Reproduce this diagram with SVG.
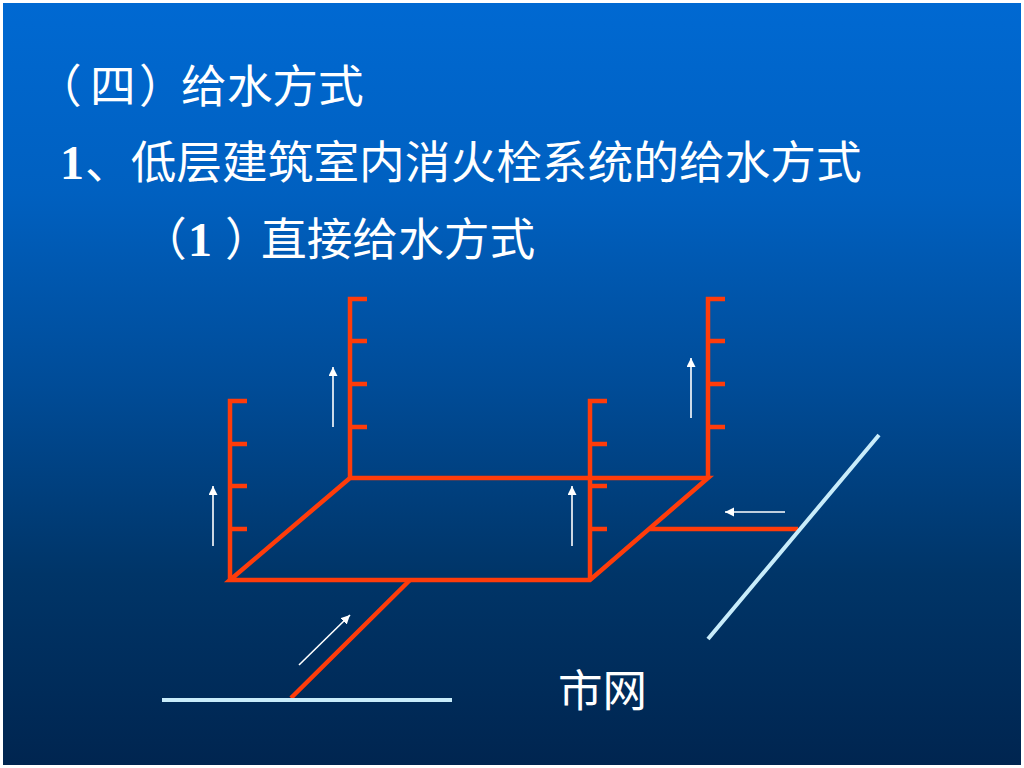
<svg xmlns="http://www.w3.org/2000/svg" width="1024" height="768" viewBox="0 0 1024 768">
<defs>
<linearGradient id="bg" x1="0" y1="0" x2="0" y2="1">
<stop offset="0" stop-color="#0069d2"/>
<stop offset="0.25" stop-color="#0060c0"/>
<stop offset="0.5" stop-color="#004c98"/>
<stop offset="0.75" stop-color="#003568"/>
<stop offset="1" stop-color="#002550"/>
</linearGradient>
<marker id="ah" markerUnits="userSpaceOnUse" markerWidth="10" markerHeight="10" refX="9" refY="4.5" orient="auto">
<path d="M0 0L9 4.5L0 9Z" fill="#fff"/>
</marker>
</defs>
<style>
.t{font-family:"Noto Sans CJK SC","Liberation Serif",serif;font-size:45.7px;fill:#fff}
.n{font-family:"Liberation Serif","Noto Sans CJK SC",serif;font-size:48px;font-weight:bold;fill:#fff}
.r{fill:none;stroke:#ff3c0a;stroke-width:4.5;stroke-linejoin:miter}
.b{fill:none;stroke:#c8ecfa;stroke-width:4}
.a{fill:none;stroke:#fff;stroke-width:1.6;marker-end:url(#ah)}
</style>
<rect width="1024" height="768" fill="#fff"/>
<rect x="3" y="3" width="1018" height="762" fill="url(#bg)"/>
<g id="titles">
<text class="t" x="36" y="103">（<tspan dx="8.3">四</tspan><tspan dx="3.3">）</tspan><tspan dx="-3.7">给水方式</tspan></text>
<text class="t" x="60" y="179"><tspan class="n">1</tspan><tspan dx="1">、低层建筑室内消火栓系统的给水方式</tspan></text>
<text class="t" x="141" y="256">（<tspan class="n" dx="1.3">1</tspan><tspan dx="13" style="letter-spacing:-9.7px">）</tspan>直接给水方式</text>
<text class="t" x="558" y="707" style="font-size:44.5px">市网</text>
</g>
<g id="connectors">
<path class="r" d="M367 299H350V478M350 341H367M350 384H367M350 427H367"/>
<path class="r" d="M247 401H230V580M230 444H247M230 486H247M230 529H247"/>
<path class="r" d="M607 401H590V580M590 444H607M590 486H607M590 529H607"/>
<path class="r" d="M725 299H708V478M708 341H725M708 384H725M708 427H725"/>
<path class="r" d="M230 580L350 478H708L590 580Z"/>
<path class="r" d="M410 580L291 698M650 529H798"/>
<path class="b" d="M162 700H452M708 639L879 435"/>
<path class="a" d="M333 427V367"/>
<path class="a" d="M213 546V486"/>
<path class="a" d="M572 546V486"/>
<path class="a" d="M691 418V358"/>
<path class="a" d="M785 512H725"/>
<path class="a" d="M299 665L350 615"/>
</g>
</svg>
